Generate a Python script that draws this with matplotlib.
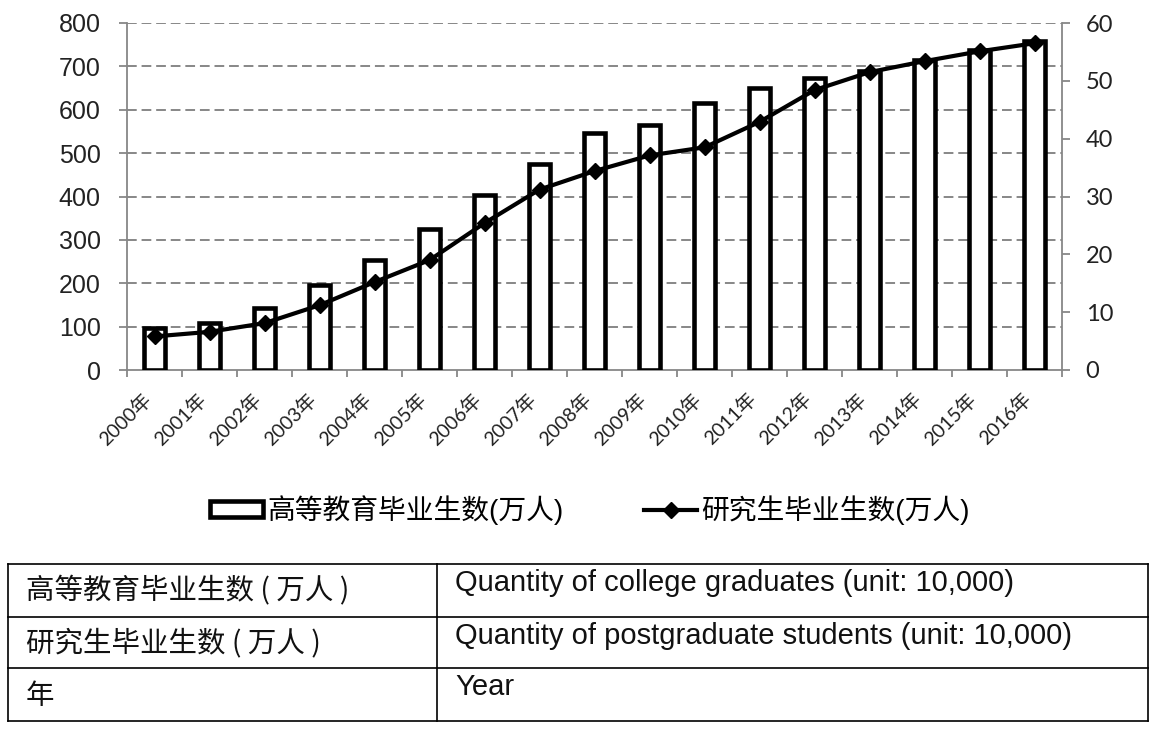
import numpy as np
import matplotlib.pyplot as plt

plt.rcParams['font.family'] = ['Liberation Sans', 'Noto Sans CJK SC', 'DejaVu Sans']

years = ['2000年', '2001年', '2002年', '2003年', '2004年', '2005年', '2006年', '2007年', '2008年',
         '2009年', '2010年', '2011年', '2012年', '2013年', '2014年', '2015年', '2016年']
college = [97, 109, 143, 197, 253, 324, 403, 476, 547, 565, 615, 651, 673, 689, 715, 738, 758]
postgrad = [5.8, 6.6, 8.1, 11.2, 15.2, 19.0, 25.4, 31.2, 34.4, 37.1, 38.5, 42.9, 48.4, 51.5, 53.4, 55.1, 56.5]
left_ticks = [0, 100, 200, 300, 400, 500, 600, 700, 800]
right_ticks = [0, 10, 20, 30, 40, 50, 60]
name_bar = '高等教育毕业生数(万人)'
name_line = '研究生毕业生数(万人)'
table_cn = ['高等教育毕业生数 ( 万人 )', '研究生毕业生数 ( 万人 )', '年']
table_en = ['Quantity of college graduates (unit: 10,000)',
            'Quantity of postgraduate students (unit: 10,000)', 'Year']

W, H = 1152, 731
fig = plt.figure(figsize=(W / 100, H / 100), dpi=100)
fig.patch.set_facecolor('white')

ax = fig.add_axes([127 / W, 1 - 370 / H, (1062 - 127) / W, (370 - 23) / H])
ax2 = ax.twinx()

x = np.arange(len(years))
grid_c = '#878787'
bars = ax.bar(x, college, width=0.37, color='white', edgecolor='black', linewidth=3.3,
              zorder=3, label=name_bar)
ln, = ax2.plot(x, postgrad, color='black', lw=3.0, marker='D', ms=8, zorder=4, label=name_line)

ax.set_ylim(0, 800)
ax2.set_ylim(0, 60)
ax.set_xlim(-0.5, len(years) - 0.5)
ax.set_yticks(left_ticks)
ax2.set_yticks(right_ticks)
for v in left_ticks[1:]:
    ax.axhline(v, color=grid_c, lw=1.4, ls=(0, (5, 2.5)), zorder=1)

# category boundary ticks, labels at centers
ax.set_xticks(np.arange(len(years) + 1) - 0.5)
ax.set_xticklabels([])
ax.set_xticks(x, minor=True)
ax.set_xticklabels(years, minor=True, rotation=45, ha='right', fontsize=14,
                   family=['Lato', 'Noto Sans CJK SC'], color='#222222')
ax.tick_params(axis='x', which='major', length=5, width=1.3, color=grid_c, direction='out')
ax.tick_params(axis='x', which='minor', length=0, pad=14)
ax.tick_params(axis='y', length=6, width=1.3, color=grid_c, pad=13, labelsize=18, labelcolor='#222222')
ax2.tick_params(axis='y', length=6, width=1.3, color=grid_c, pad=11, labelsize=17, labelcolor='#222222')
for t in ax2.get_yticklabels():
    t.set_family('Lato')

for a in (ax, ax2):
    a.spines['top'].set_visible(False)
    for s in ('left', 'right', 'bottom'):
        a.spines[s].set_color(grid_c)
        a.spines[s].set_linewidth(1.3)
ax.spines['right'].set_visible(False)
ax2.spines['left'].set_visible(False)
ax2.spines['bottom'].set_visible(False)

fig.legend(handles=[bars, ln], labels=[name_bar, name_line], loc='center',
           bbox_to_anchor=(590 / W, 1 - 510 / H), ncol=2, frameon=False,
           handlelength=1.9, handleheight=0.5, handletextpad=0.15, columnspacing=2.9,
           prop={'family': ['Liberation Sans', 'Noto Sans CJK SC'], 'size': 20})

# translation table below the chart
tab = fig.add_axes([0, 0, 1, 1])
tab.set_xlim(0, W)
tab.set_ylim(H, 0)
tab.axis('off')
rows = [564, 617, 668, 721]
for yy in rows:
    tab.plot([8, 1148], [yy, yy], color='black', lw=1.2)
for xx in (8, 437, 1148):
    tab.plot([xx, xx], [rows[0], rows[-1]], color='black', lw=1.2)
for i in range(3):
    tab.text(26, (rows[i] + rows[i + 1]) / 2 + 1, table_cn[i], fontsize=20.5, va='center', ha='left',
             family=['Noto Sans CJK SC'], color='#111111')
    tab.text(455, rows[i] + 5, table_en[i], fontsize=21, va='top', ha='left',
             family=['Liberation Sans'], color='#111111')

fig.savefig('out.png', dpi=100)
